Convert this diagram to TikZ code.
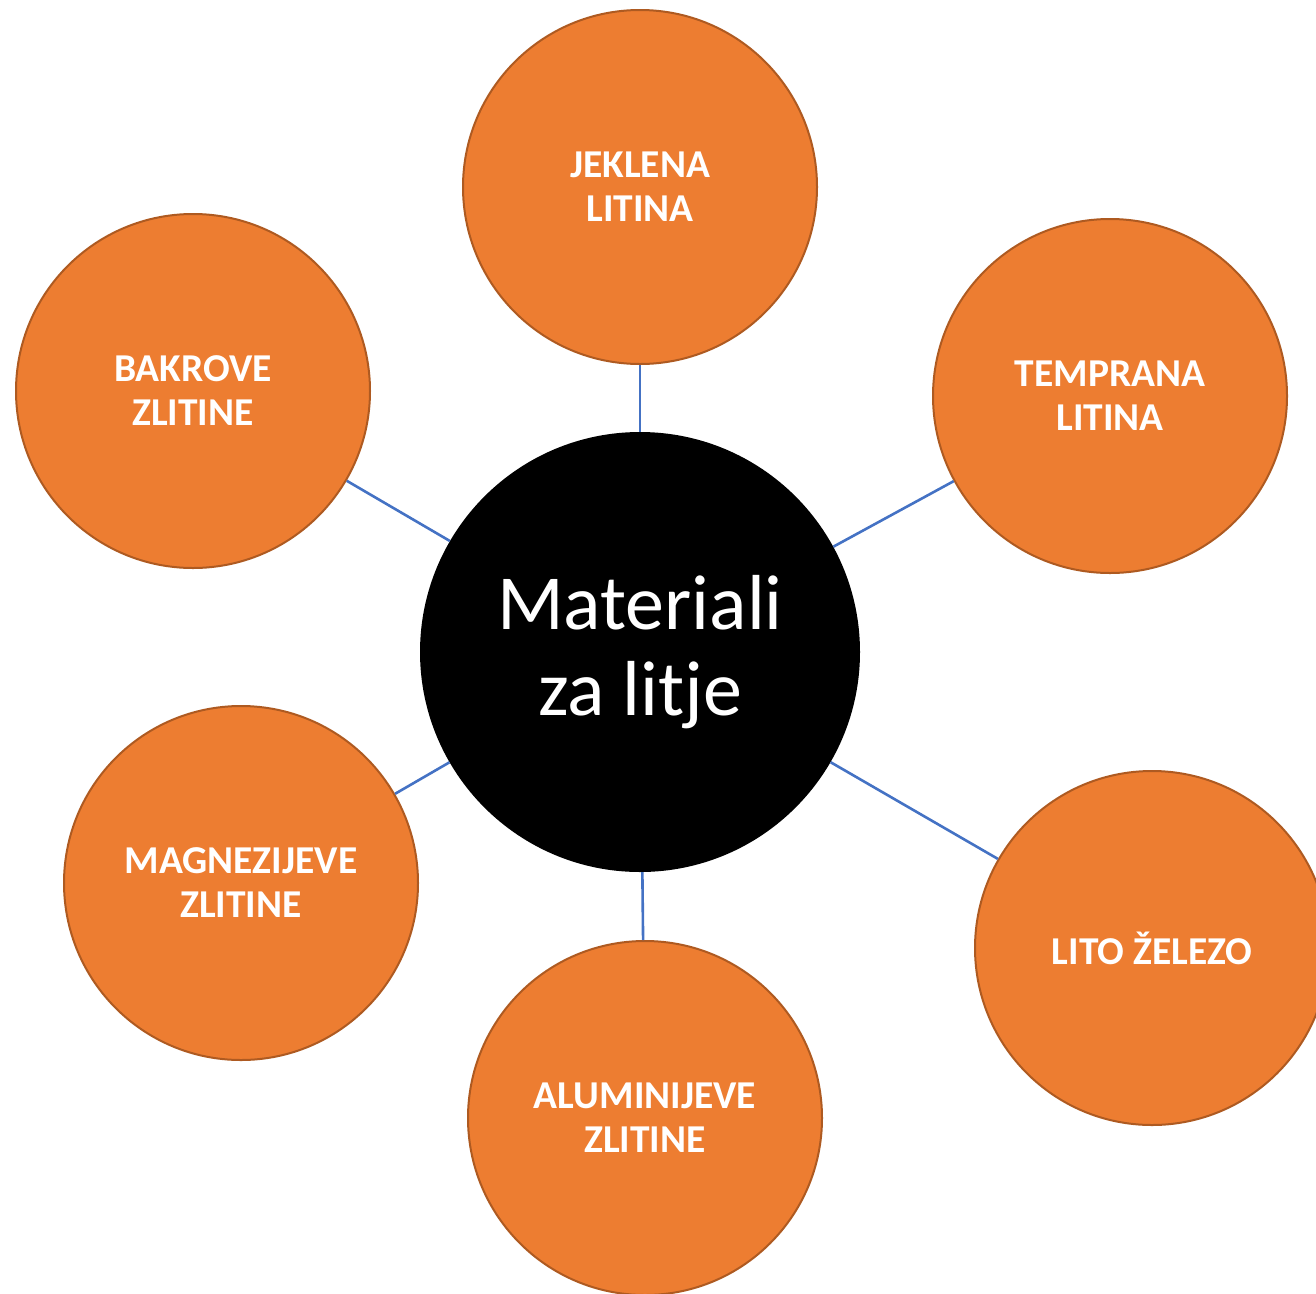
\documentclass[tikz,border=0pt]{standalone}
\usepackage{fontspec}
\setmainfont{Carlito}
\usetikzlibrary{positioning}
\definecolor{accent}{RGB}{237,125,49}
\definecolor{accentdark}{RGB}{174,90,33}
\definecolor{link}{RGB}{68,114,196}

\begin{document}
\begin{tikzpicture}[x=1pt, y=-1pt,
  topic/.style={circle, fill=accent, draw=accentdark, line width=2pt,
                minimum size=354pt, inner sep=0pt, align=center, text=white,
                font=\fontsize{39.5}{44}\selectfont\bfseries},
  hub/.style={circle, fill=black, minimum size=440pt, inner sep=0pt,
              align=center, text=white, font=\fontsize{78}{86}\selectfont},
  link/.style={draw=link, line width=2.6pt}]
\useasboundingbox (0,0) rectangle (1316,1293);

\node[hub] (hub) at (640,652) {Materiali\\za litje};

\node[topic] (jeklena) at (640,187) {JEKLENA\\LITINA};
\node[topic] (temprana) at (1110,396) {TEMPRANA\\LITINA};
\node[topic] (bakrove) at (193,391) {BAKROVE\\ZLITINE};
\node[topic] (magnez) at (241,883) {MAGNEZIJEVE\\ZLITINE};
\node[topic] (alumin) at (645,1118) {ALUMINIJEVE\\ZLITINE};
\node[topic] (lito) at (1152,948) {LITO ŽELEZO};

\foreach \t in {jeklena,temprana,bakrove,magnez,alumin,lito}
  \draw[link] (hub) -- (\t);
\end{tikzpicture}
\end{document}
